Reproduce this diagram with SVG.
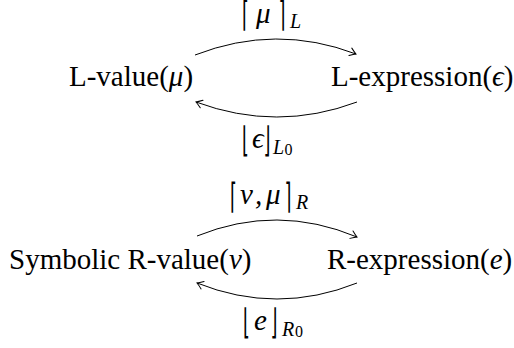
<svg xmlns="http://www.w3.org/2000/svg" width="514" height="348" viewBox="0 0 514 348">
<defs>
<style>
.t{font-family:"Liberation Serif","DejaVu Serif",serif;font-size:29px;fill:#000}
.m{font-family:"Liberation Serif","DejaVu Serif",serif;font-style:italic;font-size:29px;fill:#000}
.b{font-family:"DejaVu Sans","DejaVu Serif",sans-serif;font-size:35px;fill:#000}
.s{font-family:"Liberation Serif","DejaVu Serif",serif;font-style:italic;font-size:20px;fill:#000}
.z{font-family:"Liberation Serif","DejaVu Serif",serif;font-size:16px;fill:#000}
.c{fill:none;stroke:#000;stroke-width:1}
</style>
<marker id="ah" markerUnits="userSpaceOnUse" markerWidth="14" markerHeight="14" viewBox="-8 -7 10 14" refX="0" refY="0" orient="auto">
<path d="M-6,-4 Q-2,-1 0,0 Q-2,1 -6,4" fill="none" stroke="#000" stroke-width="1" stroke-linecap="round"/>
</marker>
</defs>
<rect width="514" height="348" fill="#fff"/>
<g id="lvalue"><text class="t" x="69" y="86">L-value(<tspan class="m">μ</tspan>)</text></g>
<g id="lexpr"><text class="t" x="331" y="86">L-expression(<tspan class="m">ϵ</tspan>)</text></g>
<g id="rvalue"><text class="t" x="9" y="269">Symbolic R-value(<tspan class="m">v</tspan>)</text></g>
<g id="rexpr"><text class="t" x="327" y="269">R-expression(<tspan class="m">e</tspan>)</text></g>
<g id="connectors">
<path class="c" d="M195,55 Q276,23.5 356,54" marker-end="url(#ah)"/>
<path class="c" d="M357,102 Q277,132 196,102" marker-end="url(#ah)"/>
<path class="c" d="M197,236 Q277,203.5 357,237" marker-end="url(#ah)"/>
<path class="c" d="M357,283 Q277,315 197,283" marker-end="url(#ah)"/>
<g id="label-lup">
<text class="b" transform="translate(242,26) scale(0.5,1)">⌈</text>
<text class="m" x="256" y="23">μ</text>
<text class="b" transform="translate(278.5,26) scale(0.5,1)">⌉</text>
<text class="s" x="290" y="28">L</text>
</g>
<g id="label-ldown">
<text class="b" transform="translate(242,152) scale(0.5,1)">⌊</text>
<text class="m" x="252" y="148">ϵ</text>
<text class="b" transform="translate(263.5,152) scale(0.5,1)">⌋</text>
<text class="s" x="273" y="154">L</text>
<text class="z" x="284.5" y="155">0</text>
</g>
<g id="label-rup">
<text class="b" transform="translate(230,208) scale(0.5,1)">⌈</text>
<text class="m" x="240" y="204">v</text>
<text class="m" x="255" y="204">,</text>
<text class="m" x="266" y="204">μ</text>
<text class="b" transform="translate(284.5,208) scale(0.5,1)">⌉</text>
<text class="s" x="296" y="209">R</text>
</g>
<g id="label-rdown">
<text class="b" transform="translate(243,334) scale(0.5,1)">⌊</text>
<text class="m" x="254" y="330">e</text>
<text class="b" transform="translate(270.5,334) scale(0.5,1)">⌋</text>
<text class="s" x="282" y="336">R</text>
<text class="z" x="295" y="337">0</text>
</g>
</g>
</svg>
